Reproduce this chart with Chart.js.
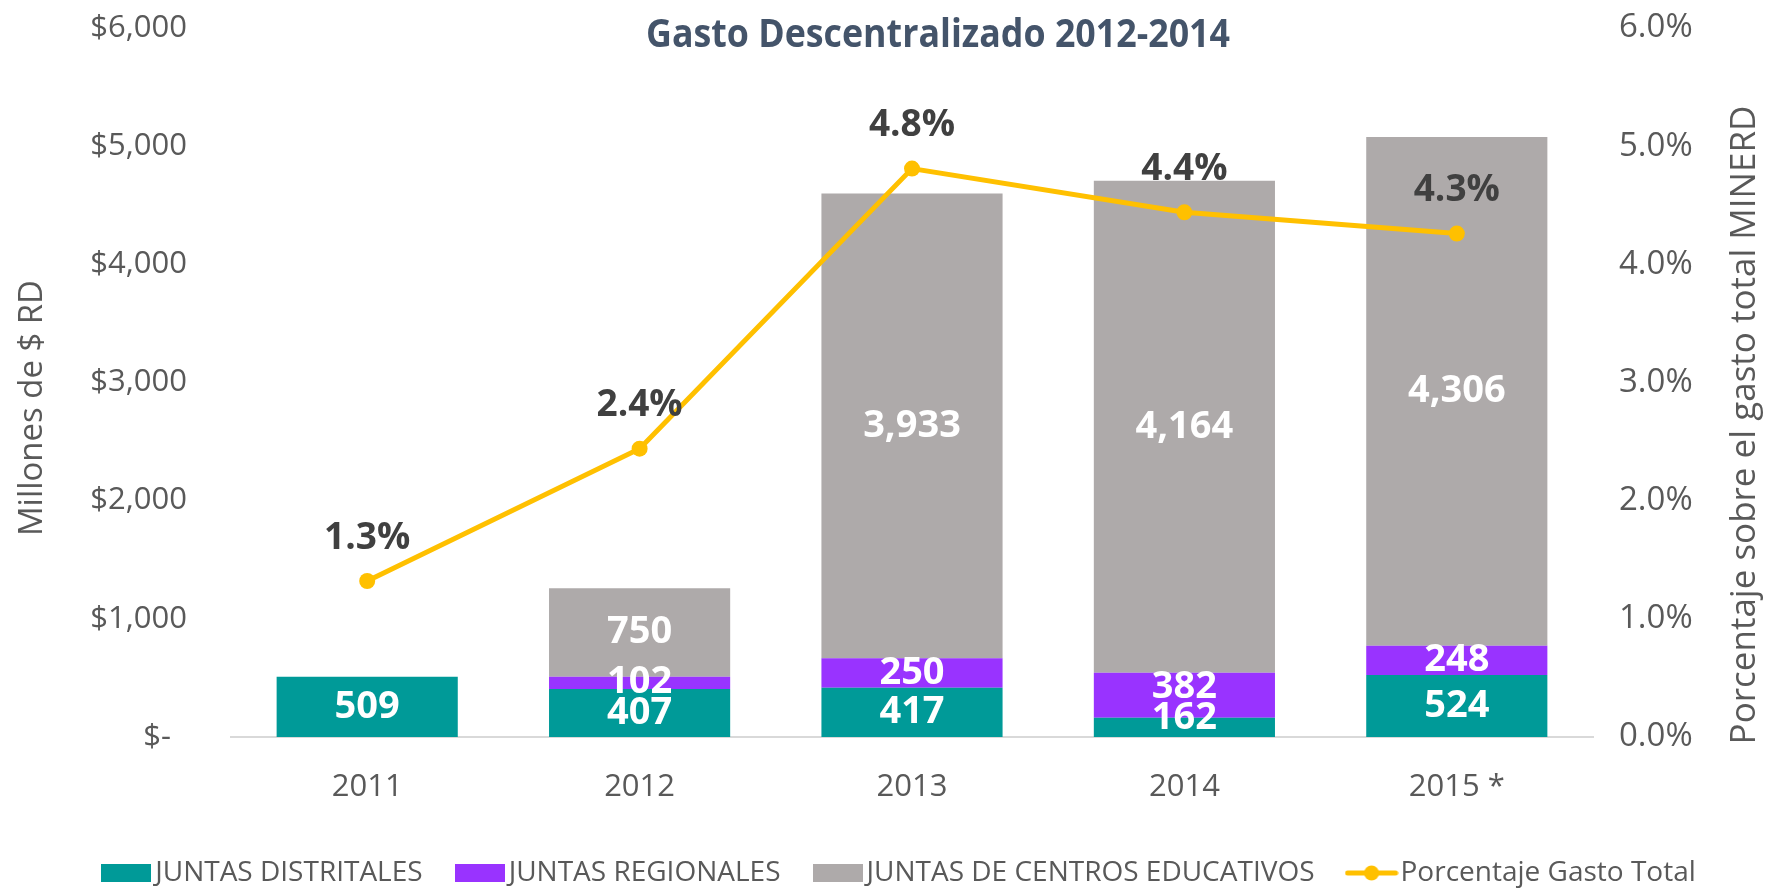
<!DOCTYPE html>
<html>
<head>
<meta charset="utf-8">
<script src="https://cdn.jsdelivr.net/npm/chart.js@4.4.1/dist/chart.umd.min.js"></script>
<style>
  html, body { margin: 0; background: #fff; }
  canvas { display: block; }
</style>
</head>
<body>
<canvas id="gastoChart" width="1767" height="889"></canvas>
<script>
const years = ['2011', '2012', '2013', '2014', '2015 *'];
const juntasDistritales = [509, 407, 417, 162, 524];
const juntasRegionales = [null, 102, 250, 382, 248];
const juntasCentros = [null, 750, 3933, 4164, 4306];
const porcentajeGasto = [1.32, 2.44, 4.81, 4.44, 4.26];

const TEAL = '#009a98';
const PURPLE = '#9933ff';
const GRAY = '#aeaaaa';
const YELLOW = '#ffc000';
const TICK = '#595959';

Chart.defaults.font.family = "'Open Sans', sans-serif";
Chart.defaults.color = TICK;

// legend markers: Excel style wide boxes and a line with a dot
function legendImg(color, isLine) {
  const c = document.createElement('canvas');
  c.width = isLine ? 54 : 50;
  c.height = 18;
  const g = c.getContext('2d');
  g.fillStyle = color;
  if (isLine) {
    g.strokeStyle = color;
    g.lineWidth = 5;
    g.lineCap = 'round';
    g.beginPath(); g.moveTo(3, 9); g.lineTo(51, 9); g.stroke();
    g.beginPath(); g.arc(27, 9, 7.5, 0, Math.PI * 2); g.fill();
  } else {
    g.fillRect(0, 0, 50, 18);
  }
  return c;
}
const legendImgs = [legendImg(TEAL), legendImg(PURPLE), legendImg(GRAY), legendImg(YELLOW, true)];

// keep tick padding from pushing the plot area down
const noEdgePad = s => { s.paddingTop = 10; s.paddingBottom = 10; };

const labelsPlugin = {
  id: 'valueLabels',
  afterLayout(chart) {
    // nudge the legend row to where Excel put it
    const lg = chart.legend;
    lg.top += 8; lg.bottom += 8;
    lg.left += 20; lg.right += 20;
  },
  afterDatasetsDraw(chart) {
    const ctx = chart.ctx;
    const base = chart.scales.y.getPixelForValue(0);
    ctx.save();
    ctx.textAlign = 'center';
    ctx.textBaseline = 'middle';
    // stacked bar values, centred in each segment
    ctx.font = "bold 38px 'Open Sans'";
    ctx.fillStyle = '#ffffff';
    years.forEach((_, i) => {
      let prev = null;
      [0, 1, 2].forEach(d => {
        const v = chart.data.datasets[d].data[i];
        if (v == null) return;
        const bar = chart.getDatasetMeta(d).data[i];
        let cy = (bar.y + bar.base) / 2;
        cy = Math.min(cy, base - 19);
        if (prev !== null) cy = Math.min(cy, prev - 31);
        prev = cy;
        ctx.fillText(v.toLocaleString('en-US'), bar.x, cy);
      });
    });
    // percentages above the line points
    ctx.font = "bold 37px 'Open Sans'";
    ctx.fillStyle = '#404040';
    chart.getDatasetMeta(3).data.forEach((pt, i) => {
      ctx.fillText(porcentajeGasto[i].toFixed(1) + '%', pt.x, pt.y - 43);
    });
    ctx.restore();
  },
  afterDraw(chart) {
    const ctx = chart.ctx;
    ctx.save();
    ctx.textAlign = 'center';
    ctx.textBaseline = 'middle';
    ctx.fillStyle = '#44546a';
    ctx.font = "bold 39px 'Open Sans'";
    ctx.fillText('Gasto Descentralizado 2012-2014', 938, 36, 584);
    ctx.fillStyle = TICK;
    ctx.font = "33px 'Open Sans'";
    ctx.translate(33, 408);
    ctx.rotate(-Math.PI / 2);
    ctx.fillText('Millones de $ RD', 0, 0, 256);
    ctx.setTransform(1, 0, 0, 1, 0, 0);
    ctx.font = "35px 'Open Sans'";
    ctx.translate(1745, 425);
    ctx.rotate(-Math.PI / 2);
    ctx.fillText('Porcentaje sobre el gasto total MINERD', 0, 0, 660);
    ctx.restore();
  }
};

new Chart(document.getElementById('gastoChart'), {
  type: 'bar',
  data: {
    labels: years,
    datasets: [
      { label: 'JUNTAS DISTRITALES', data: juntasDistritales, backgroundColor: TEAL, order: 1 },
      { label: 'JUNTAS REGIONALES', data: juntasRegionales, backgroundColor: PURPLE, order: 1 },
      { label: 'JUNTAS DE CENTROS EDUCATIVOS', data: juntasCentros, backgroundColor: GRAY, order: 1 },
      {
        type: 'line',
        label: 'Porcentaje Gasto Total',
        data: porcentajeGasto,
        yAxisID: 'y1',
        borderColor: YELLOW,
        backgroundColor: YELLOW,
        borderWidth: 5,
        pointRadius: 8,
        pointBorderWidth: 0,
        tension: 0,
        order: 0
      }
    ]
  },
  options: {
    responsive: false,
    animation: false,
    devicePixelRatio: 1,
    datasets: { bar: { categoryPercentage: 1, barPercentage: 0.665 } },
    layout: { padding: { top: 28, left: 0, right: 0, bottom: 0 } },
    plugins: {
      tooltip: { enabled: false },
      legend: {
        position: 'bottom',
        labels: {
          usePointStyle: true,
          pointStyleWidth: 30,
          boxHeight: 18,
          padding: 42,
          color: TICK,
          font: { size: 28 },
          sort: (a, b) => a.datasetIndex - b.datasetIndex,
          generateLabels(chart) {
            return Chart.defaults.plugins.legend.labels.generateLabels(chart)
              .map(it => ({ ...it, pointStyle: legendImgs[it.datasetIndex] }));
          }
        }
      }
    },
    scales: {
      x: {
        stacked: true,
        grid: { display: false, drawTicks: false },
        border: { display: true, color: '#d9d9d9', width: 2 },
        ticks: { padding: 32, font: { size: 31 }, color: TICK },
        afterFit(s) { s.height = 72; }
      },
      y: {
        stacked: true,
        min: 0,
        max: 6000,
        grid: { display: false, drawTicks: false },
        border: { display: false },
        ticks: {
          stepSize: 1000,
          padding: 44,
          font: { size: 31 },
          color: TICK,
          callback: v => v === 0 ? '$-  ' : '$' + v.toLocaleString('en-US')
        },
        afterFit(s) { s.width = 231; noEdgePad(s); }
      },
      y1: {
        position: 'right',
        min: 0,
        max: 6,
        grid: { display: false, drawTicks: false },
        border: { display: false },
        ticks: {
          stepSize: 1,
          padding: 26,
          font: { size: 33 },
          color: TICK,
          callback: v => v.toFixed(1) + '%'
        },
        afterFit(s) { s.width = 174; noEdgePad(s); }
      }
    }
  },
  plugins: [labelsPlugin]
});
</script>
</body>
</html>
